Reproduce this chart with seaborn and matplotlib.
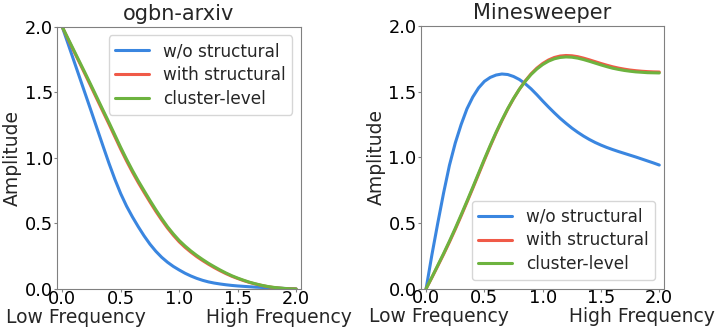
import matplotlib
matplotlib.use('Agg')
import matplotlib.pyplot as plt
import seaborn as sns
import pandas as pd

# frequency grid (x) shared by all curves, step 0.05
freq = [0.0, 0.05, 0.1, 0.15, 0.2, 0.25, 0.3, 0.35, 0.4, 0.45, 0.5,
        0.55, 0.6, 0.65, 0.7, 0.75, 0.8, 0.85, 0.9, 0.95, 1.0,
        1.05, 1.1, 1.15, 1.2, 1.25, 1.3, 1.35, 1.4, 1.45, 1.5,
        1.55, 1.6, 1.65, 1.7, 1.75, 1.8, 1.85, 1.9, 1.95, 2.0]

series_names = ['w/o structural', 'with structural', 'cluster-level']

# ogbn-arxiv
arxiv_wo = [2.0, 1.87, 1.74, 1.61, 1.48, 1.35, 1.218, 1.087, 0.958, 0.837, 0.727,
            0.632, 0.55, 0.475, 0.405, 0.342, 0.288, 0.242, 0.204, 0.172, 0.145,
            0.12, 0.099, 0.081, 0.066, 0.054, 0.045, 0.038, 0.032, 0.027, 0.023,
            0.02, 0.017, 0.014, 0.012, 0.01, 0.008, 0.006, 0.004, 0.002, 0.0]
arxiv_with = [2.0, 1.905, 1.813, 1.722, 1.63, 1.537, 1.443, 1.35, 1.257, 1.162, 1.067,
              0.977, 0.892, 0.812, 0.737, 0.664, 0.593, 0.527, 0.465, 0.41, 0.36,
              0.318, 0.281, 0.247, 0.217, 0.189, 0.163, 0.139, 0.117, 0.097, 0.08,
              0.064, 0.05, 0.038, 0.028, 0.019, 0.012, 0.007, 0.003, 0.001, 0.0]
arxiv_cluster = [2.0, 1.91, 1.82, 1.73, 1.64, 1.548, 1.455, 1.362, 1.27, 1.175, 1.08,
                 0.99, 0.905, 0.825, 0.75, 0.676, 0.605, 0.538, 0.475, 0.42, 0.37,
                 0.328, 0.29, 0.256, 0.225, 0.196, 0.17, 0.145, 0.122, 0.101, 0.083,
                 0.067, 0.052, 0.04, 0.029, 0.02, 0.013, 0.008, 0.004, 0.001, 0.0]

# Minesweeper
mine_wo = [0.0, 0.26, 0.5, 0.73, 0.94, 1.11, 1.25, 1.37, 1.46, 1.53, 1.58,
           1.61, 1.628, 1.636, 1.632, 1.617, 1.594, 1.562, 1.523, 1.478, 1.43,
           1.384, 1.34, 1.298, 1.26, 1.224, 1.192, 1.163, 1.137, 1.114, 1.094,
           1.076, 1.06, 1.045, 1.031, 1.017, 1.003, 0.988, 0.973, 0.958, 0.942]
mine_with = [0.0, 0.085, 0.173, 0.262, 0.355, 0.452, 0.554, 0.658, 0.764, 0.872, 0.98,
             1.085, 1.186, 1.28, 1.368, 1.448, 1.52, 1.583, 1.637, 1.681, 1.716,
             1.743, 1.762, 1.773, 1.777, 1.775, 1.768, 1.757, 1.744, 1.73, 1.716,
             1.703, 1.691, 1.681, 1.673, 1.666, 1.661, 1.657, 1.654, 1.652, 1.651]
mine_cluster = [0.0, 0.088, 0.178, 0.268, 0.362, 0.46, 0.562, 0.666, 0.772, 0.88, 0.988,
                1.092, 1.192, 1.285, 1.372, 1.45, 1.52, 1.58, 1.632, 1.674, 1.708,
                1.734, 1.752, 1.762, 1.766, 1.764, 1.757, 1.746, 1.733, 1.719, 1.705,
                1.692, 1.68, 1.671, 1.663, 1.657, 1.652, 1.649, 1.646, 1.645, 1.644]

colors = ['#3A86E0', '#F05A48', '#6DB33F']

sns.set_style('white', {'axes.edgecolor': '0.5', 'xtick.bottom': True, 'ytick.left': True})
plt.rcParams['font.family'] = ['DejaVu Sans']
plt.rcParams['xtick.major.size'] = 2
plt.rcParams['ytick.major.size'] = 2
plt.rcParams['xtick.color'] = '0.5'
plt.rcParams['ytick.color'] = '0.5'
plt.rcParams['xtick.labelcolor'] = 'black'
plt.rcParams['ytick.labelcolor'] = 'black'


def make_frame(curves):
    rows = []
    for name, vals in zip(series_names, curves):
        for x, y in zip(freq, vals):
            rows.append({'freq': x, 'amp': y, 'filter': name})
    return pd.DataFrame(rows)


fig = plt.figure(figsize=(7.17, 3.28), dpi=100)
ax1 = fig.add_axes([0.0795, 0.119, 0.340, 0.799])
ax2 = fig.add_axes([0.587, 0.12, 0.339, 0.80])

panels = [
    (ax1, 'ogbn-arxiv', [arxiv_wo, arxiv_with, arxiv_cluster], 'upper right'),
    (ax2, 'Minesweeper', [mine_wo, mine_with, mine_cluster], 'lower right'),
]

for ax, title, curves, loc in panels:
    df = make_frame(curves)
    sns.lineplot(data=df, x='freq', y='amp', hue='filter', hue_order=series_names,
                 palette=colors, linewidth=2.2, estimator=None, ax=ax)
    ax.set_xlim(-0.045, 2.04)
    ax.set_ylim(0, 2.0)
    ax.set_xticks([0.0, 0.5, 1.0, 1.5, 2.0])
    ax.set_yticks([0.0, 0.5, 1.0, 1.5, 2.0])
    ax.tick_params(axis='x', labelsize=12.8, pad=-1.5)
    ax.tick_params(axis='y', labelsize=12.8, pad=1)
    ax.set_title(title, fontsize=15, pad=5)
    ax.set_xlabel('Low Frequency' + ' ' * 10 + 'High Frequency', fontsize=13.5, labelpad=0)
    ax.set_ylabel('Amplitude', fontsize=13.5, labelpad=2)
    handles, labels = ax.get_legend_handles_labels()
    ax.legend(handles, labels, loc=loc, fontsize=12.2, frameon=True, labelspacing=0.35)

fig.savefig('out.png', dpi=100)
